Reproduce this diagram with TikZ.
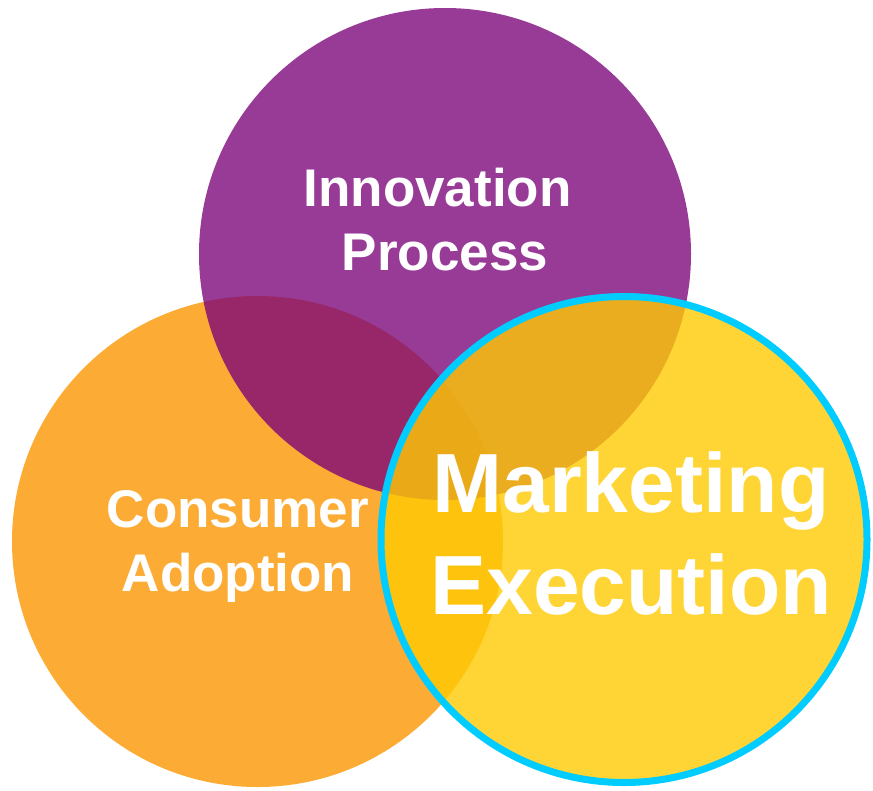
\documentclass[tikz,border=0pt]{standalone}
\usepackage{fontspec}
\setmainfont{Liberation Sans}
\definecolor{setorange}{RGB}{252,171,53}
\definecolor{setpurple}{RGB}{121,0,120}
\definecolor{setyellow}{RGB}{255,202,3}
\definecolor{setcyan}{RGB}{0,204,255}
\begin{document}
\begin{tikzpicture}[x=1pt,y=-1pt,
  setcircle/.style={circle, inner sep=0pt, outer sep=0pt},
  setlabel/.style={text=white, align=center, inner sep=0pt, font=\bfseries\fontsize{53}{64}\selectfont},
  biglabel/.style={text=white, align=center, inner sep=0pt, font=\bfseries\fontsize{84}{102}\selectfont}]
\useasboundingbox (0,0) rectangle (873,790);
% the three overlapping sets
\node[setcircle, minimum size=491pt, fill=setorange] (adopt) at (257.5,541.5) {};
\node[setcircle, minimum size=492pt, fill=setpurple, fill opacity=0.77] (innov) at (445,254) {};
\node[setcircle, minimum size=486pt, fill=setyellow, fill opacity=0.8,
      draw=setcyan, line width=7pt] (market) at (624,539.5) {};
% set names
\node[setlabel] (innovtext) at (445,219.5) {Innovation\hspace*{15pt}\\Process};
\node[setlabel] (adopttext) at (238,546) {Consumer\\Adoption};
\node[biglabel] (markettext) at (631,533) {Marketing\\Execution};
\end{tikzpicture}
\end{document}
